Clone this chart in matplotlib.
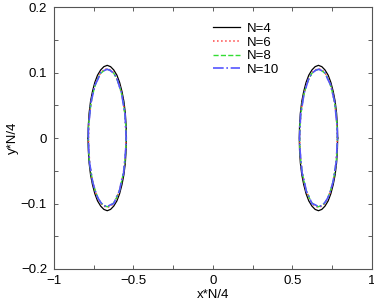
import matplotlib
matplotlib.use("Agg")
import matplotlib.pyplot as plt
from matplotlib.ticker import MultipleLocator, FuncFormatter

plt.rcParams['font.family'] = ['Liberation Sans', 'DejaVu Sans']

labels = ["N=4", "N=6", "N=8", "N=10"]
colors = ["#000000", "#ff4444", "#33dd33", "#5555ff"]
styles = ["-", ":", "--", "-."]
widths = [0.9, 1.1, 1.0, 1.2]

# right lobe contours (left lobe is the mirror image)
x_n4 = [.786, .784, .779, .770, .758, .743, .726, .706, .686, .665, .644, .624, .604,
        .587, .572, .560, .551, .546, .544, .546, .551, .560, .572, .587, .604, .624,
        .644, .665, .686, .706, .726, .743, .758, .770, .779, .784, .786]
y_n4 = [0, .019, .038, .056, .071, .085, .096, .104, .109, .111, .109, .104, .096,
        .085, .071, .056, .038, .019, 0, -.019, -.038, -.056, -.071, -.085, -.096, -.104,
        -.109, -.111, -.109, -.104, -.096, -.085, -.071, -.056, -.038, -.019, 0]
x_n6 = [.783, .781, .776, .767, .755, .741, .724, .705, .686, .665, .644, .625, .606,
        .589, .575, .563, .554, .549, .547, .549, .554, .563, .575, .589, .606, .625,
        .644, .665, .686, .705, .724, .741, .755, .767, .776, .781, .783]
y_n6 = [0, .018, .036, .053, .068, .081, .092, .100, .104, .106, .104, .100, .092,
        .081, .068, .053, .036, .018, 0, -.018, -.036, -.053, -.068, -.081, -.092, -.100,
        -.104, -.106, -.104, -.100, -.092, -.081, -.068, -.053, -.036, -.018, 0]
x_n8 = [.784, .782, .776, .767, .756, .741, .724, .705, .685, .665, .645, .624, .606,
        .589, .574, .563, .554, .548, .547, .548, .554, .563, .575, .588, .606, .624,
        .645, .665, .685, .705, .724, .741, .756, .767, .777, .782, .784]
y_n8 = [0, .018, .036, .053, .067, .080, .091, .099, .103, .105, .103, .099, .091,
        .080, .067, .053, .036, .018, 0, -.018, -.036, -.053, -.067, -.080, -.091, -.099,
        -.103, -.105, -.103, -.099, -.091, -.080, -.067, -.053, -.036, -.018, 0]
x_n10 = [.784, .783, .775, .768, .755, .742, .723, .706, .685, .665, .644, .626, .605,
         .590, .574, .564, .553, .549, .546, .549, .555, .562, .576, .588, .607, .623,
         .645, .665, .686, .704, .725, .740, .757, .766, .777, .781, .784]
y_n10 = [0, .018, .035, .054, .067, .081, .090, .100, .103, .105, .103, .099, .092,
         .080, .068, .052, .037, .017, 0, -.019, -.035, -.054, -.066, -.081, -.090, -.100,
         -.102, -.105, -.103, -.099, -.091, -.081, -.067, -.053, -.036, -.018, 0]

xs = [x_n4, x_n6, x_n8, x_n10]
ys = [y_n4, y_n6, y_n8, y_n10]

fig = plt.figure(figsize=(3.74, 3.07), dpi=100)
ax = fig.add_axes([0.1444, 0.1238, 0.8494, 0.8532])

for x, y, c, ls, lw, lab in zip(xs, ys, colors, styles, widths, labels):
    ax.plot(x, y, color=c, ls=ls, lw=lw, label=lab)
    ax.plot([-v for v in x], y, color=c, ls=ls, lw=lw)

ax.set_xlim(-1, 1)
ax.set_ylim(-0.2, 0.2)
ax.xaxis.set_major_locator(MultipleLocator(0.5))
ax.xaxis.set_minor_locator(MultipleLocator(0.25))
ax.yaxis.set_major_locator(MultipleLocator(0.1))
ax.yaxis.set_minor_locator(MultipleLocator(0.05))

def fmt(v, pos):
    if abs(v) < 1e-9:
        return "0"
    s = ("%g" % v)
    return s.replace("-", "\u2212")

ax.xaxis.set_major_formatter(FuncFormatter(fmt))
ax.yaxis.set_major_formatter(FuncFormatter(fmt))
ax.tick_params(which='both', direction='in', top=True, right=True, length=3,
               width=0.6, labelsize=9.5, colors='#444444', labelcolor='black')
ax.tick_params(axis='x', which='both', pad=4)
ax.tick_params(axis='y', which='both', pad=5)
for sp in ax.spines.values():
    sp.set_linewidth(0.8)
    sp.set_color('#555555')

ax.set_xlabel("x*N/4", fontsize=9.5, labelpad=2)
ax.set_ylabel("y*N/4", fontsize=9.5, labelpad=1.5)

ax.legend(loc='upper left', bbox_to_anchor=(0.50, 0.94), frameon=False, fontsize=9.5,
          handlelength=2.05, handletextpad=0.55, labelspacing=0.1, borderaxespad=0,
          borderpad=0)

fig.savefig("out.png", dpi=100)
